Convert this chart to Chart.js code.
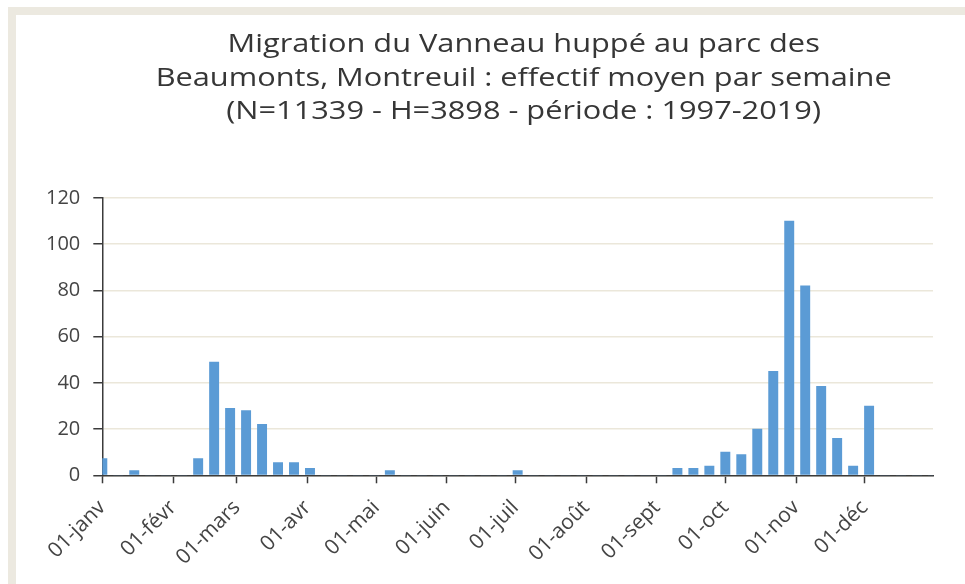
<!DOCTYPE html>
<html>
<head>
<meta charset="utf-8" />
<title>Migration du Vanneau huppé - parc des Beaumonts</title>
<script src="https://cdn.jsdelivr.net/npm/chart.js"></script>
<style>
  html, body { margin: 0; padding: 0; background: #fff; }
  #frame {
    position: absolute; left: 8px; top: 7px;
    width: 957px; height: 577px;
    border-top: 8px solid #ece9e0;
    border-left: 8px solid #ece9e0;
  }
  #box { position: absolute; left: 16px; top: 15px; width: 949px; height: 569px; }
</style>
</head>
<body>
<div id="frame"></div>
<div id="box"><canvas id="vanneauChart" width="949" height="569"></canvas></div>

<script>
// effectif moyen par semaine, semaine 1 = 01-janv
const weekValues = [
  7.2, 0, 2, 0, 0, 0, 7.2, 49, 29, 28, 22, 5.5, 5.5, 3,
  0, 0, 0, 0, 2, 0, 0, 0, 0, 0, 0, 0, 2, 0,
  0, 0, 0, 0, 0, 0, 0, 0, 3, 3, 4, 10, 9, 20,
  45, 110, 82, 38.5, 16, 4, 30, 0, 0, 0, 0
];
const daysPerWeek = 7;

// graduations : premier jour de chaque mois (jour de l'année)
const monthDays = [0, 31, 59, 90, 120, 151, 181, 212, 243, 273, 304, 334];
const monthLabels = ['01-janv', '01-févr', '01-mars', '01-avr', '01-mai', '01-juin',
  '01-juil', '01-août', '01-sept', '01-oct', '01-nov', '01-déc'];
const yearEnd = 364;

const titleLines = [
  'Migration du Vanneau huppé au parc des',
  'Beaumonts, Montreuil : effectif moyen par semaine',
  '(N=11339 - H=3898 - période : 1997-2019)'
];

const axisColor = '#3b3b3b';
const textColor = '#444444';
const points = weekValues.map((v, i) => ({ x: i * daysPerWeek, y: v }));

// titre centré au-dessus de la zone du graphique, un peu étiré en largeur
const titleBlock = {
  id: 'titleBlock',
  afterDraw(chart) {
    const c = chart.ctx;
    const area = chart.chartArea;
    c.save();
    c.font = '25px "Open Sans"';
    c.fillStyle = '#363636';
    c.textAlign = 'center';
    c.textBaseline = 'alphabetic';
    c.translate((area.left + area.right) / 2 + 6, 0);
    c.scale(1.23, 1);
    titleLines.forEach((line, i) => c.fillText(line, 0, 37 + i * 33.7));
    c.restore();
  }
};

const ctx = document.getElementById('vanneauChart').getContext('2d');
new Chart(ctx, {
  type: 'bar',
  data: {
    datasets: [{
      data: points,
      backgroundColor: '#5b9bd5',
      barThickness: 9.3,
      clip: 0
    }]
  },
  options: {
    responsive: false,
    animation: false,
    layout: { padding: { left: 17, right: 32, top: 183, bottom: 2 } },
    plugins: {
      legend: { display: false },
      tooltip: { enabled: false },
      title: { display: false }
    },
    scales: {
      x: {
        type: 'linear',
        min: 0,
        max: yearEnd,
        offset: false,
        afterBuildTicks: scale => { scale.ticks = monthDays.map(d => ({ value: d })); },
        ticks: {
          autoSkip: false,
          maxRotation: 45,
          minRotation: 45,
          padding: 12,
          color: textColor,
          font: { family: 'Open Sans', size: 21 },
          callback: (value, index) => monthLabels[index]
        },
        grid: {
          offset: false,
          drawOnChartArea: false,
          tickLength: 8,
          tickColor: axisColor,
          tickWidth: 1.5
        },
        border: { color: axisColor, width: 1.5 }
      },
      y: {
        min: 0,
        max: 120,
        ticks: {
          stepSize: 20,
          padding: 13,
          color: textColor,
          font: { family: 'Open Sans', size: 20 }
        },
        grid: {
          color: '#ebe7da',
          lineWidth: 1.5,
          tickLength: 9,
          tickColor: axisColor,
          tickWidth: 1.5
        },
        border: { color: axisColor, width: 1.5 }
      }
    }
  },
  plugins: [titleBlock]
});
</script>
</body>
</html>
